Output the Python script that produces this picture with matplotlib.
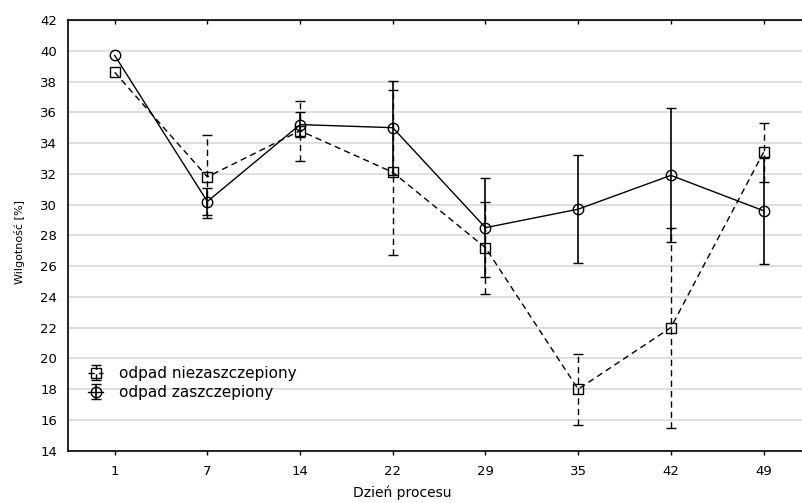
import numpy as np
import matplotlib
matplotlib.use('Agg')
import matplotlib.pyplot as plt

# dni procesu i wilgotnosc [%]
days = ['1', '7', '14', '22', '29', '35', '42', '49']
niezasz = [38.6, 31.8, 34.8, 32.1, 27.2, 18.0, 22.0, 33.4]
niezasz_err = [np.nan, 2.7, 1.95, 5.35, 3.0, 2.3, 6.5, 1.9]
zasz = [39.7, 30.2, 35.2, 35.0, 28.5, 29.7, 31.9, 29.6]
zasz_err = [np.nan, 0.85, 0.8, 3.05, 3.2, 3.5, 4.35, 3.45]
yticks = list(range(14, 43, 2))

plt.rcParams['font.family'] = 'DejaVu Sans'

W, H = 802, 503
fig = plt.figure(figsize=(W / 100, H / 100), dpi=100)
# axes go a bit past the right edge, like in the original
ax = fig.add_axes([68.3 / W, (H - 450.7) / H, 741.6 / W, 430.7 / H])

x = np.arange(len(days))
dash = (0, (4.5, 3))

eb1 = ax.errorbar(x, niezasz, yerr=niezasz_err, color='black', ls=dash,
                  lw=1.0, marker='s', ms=6.5, mfc='none', mec='black', mew=1.0,
                  capsize=3.5, capthick=1.0, elinewidth=1.0,
                  label='odpad niezaszczepiony', zorder=3)
eb1[2][0].set_linestyle(dash)

eb2 = ax.errorbar(x, zasz, yerr=zasz_err, color='black', ls='-',
                  lw=1.0, marker='o', ms=7.5, mfc='none', mec='black', mew=1.0,
                  capsize=3.5, capthick=1.0, elinewidth=1.2,
                  label='odpad zaszczepiony', zorder=4)

ax.set_xlim(-0.5, 7.5)
ax.set_ylim(14, 42)
ax.set_xticks(x)
ax.set_xticklabels(days)
ax.set_yticks(yticks)

ax.grid(axis='y', color='#d9d9d9', lw=1.2)
ax.set_axisbelow(True)
for s in ax.spines.values():
    s.set_linewidth(1.2)
    s.set_color('black')

ax.tick_params(axis='x', direction='out', length=3, width=1, pad=7, labelsize=9.5)
ax.tick_params(axis='y', length=0, pad=8, labelsize=9.5)

top = ax.secondary_xaxis('top')
top.set_xticks(x)
top.set_xticklabels([])
top.tick_params(direction='in', length=3, width=1)

fig.text(20 / W, 1 - 242 / H, 'Wilgotność [%]', rotation=90, fontsize=8,
         ha='center', va='center')
fig.text(402 / W, 1 - 493 / H, 'Dzień procesu', fontsize=10,
         ha='center', va='center')

leg = ax.legend(loc='center left', bbox_to_anchor=(88 / W, 1 - 383 / H),
                bbox_transform=fig.transFigure, frameon=False, fontsize=11,
                handlelength=1.0, handletextpad=1.0, labelspacing=0.25,
                borderpad=0, borderaxespad=0)

fig.savefig('out.png', dpi=100)
